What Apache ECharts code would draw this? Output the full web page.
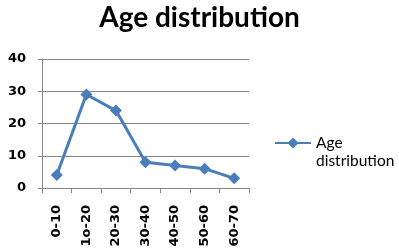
<!DOCTYPE html>
<html><head><meta charset="utf-8">
<script src="https://cdn.jsdelivr.net/npm/echarts@6/dist/echarts.min.js"></script>
<style>html,body{margin:0;padding:0;background:#fff}#c{width:399px;height:250px}</style>
</head><body><div id="c"></div>
<script>
const title = 'Age distribution';
const seriesName = 'Age distribution';
const categories = ['0-10','1o-20','20-30','30-40','40-50','50-60','60-70'];
const values = [4, 29, 24, 8, 7, 6, 3];
const yMin = 0, yMax = 40, yInterval = 10;

const chart = echarts.init(document.getElementById('c'));
chart.setOption({
  animation: false,
  title: {text: title, left: 'center', top: 4, padding: 0,
    textStyle: {fontFamily: 'Lato', fontWeight: 'bold', fontSize: 28, color: '#000'}},
  legend: {
    left: 274, top: 116, padding: 0, itemWidth: 36, itemHeight: 14,
    formatter: function(){ return '\nAge\ndistribution'; },
    textStyle: {fontFamily: 'Lato', fontSize: 15.5, color: '#000', lineHeight: 18},
    data: [seriesName]
  },
  grid: {left: 42, right: 150, top: 59, bottom: 62},
  xAxis: {
    type: 'category', data: categories, boundaryGap: true,
    axisLine: {lineStyle: {color: '#868686'}},
    axisTick: {show: true, length: 5, lineStyle: {color: '#868686'}},
    axisLabel: {rotate: 90, fontFamily: 'DejaVu Sans', fontWeight: 'bold', fontSize: 13, color: '#000', margin: 17}
  },
  yAxis: {
    type: 'value', min: yMin, max: yMax, interval: yInterval,
    axisLine: {show: true, lineStyle: {color: '#868686'}},
    axisTick: {show: true, length: 4, lineStyle: {color: '#868686'}},
    splitLine: {lineStyle: {color: '#868686'}},
    axisLabel: {fontFamily: 'DejaVu Sans', fontWeight: 'bold', fontSize: 13, color: '#000', margin: 16}
  },
  series: [{
    name: seriesName, type: 'line', data: values,
    symbol: 'diamond', symbolSize: 12,
    lineStyle: {color: '#4A7EBB', width: 3},
    itemStyle: {color: '#4A7EBB'}
  }]
});
</script></body></html>
